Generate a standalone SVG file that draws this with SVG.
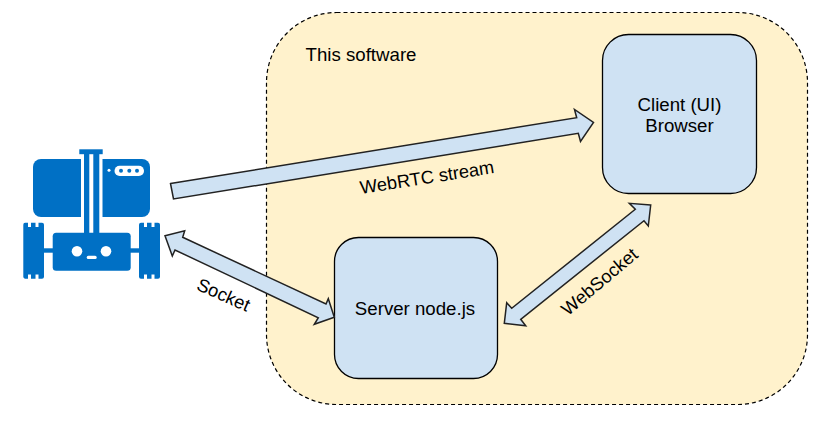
<svg xmlns="http://www.w3.org/2000/svg" width="838" height="425" viewBox="0 0 838 425">
<style>
text{font-family:"Liberation Sans",Arial,sans-serif;font-size:18.67px;fill:#000;text-anchor:middle}
.tag{font-size:18.3px}
.box{fill:#cfe2f3;stroke:#000;stroke-width:1.3}
.link{fill:#cfe2f3;stroke:#222;stroke-width:1.5;stroke-linejoin:miter}
.ink{fill:#0070c5}
.cut{fill:#fff}
</style>
<rect width="838" height="425" fill="#fff"/>
<g id="software">
<rect x="266.5" y="12.5" width="541" height="392" rx="70" fill="#fff2cc" stroke="#000" stroke-width="1.2" stroke-dasharray="4 3"/>
<text x="361" y="61">This software</text>
</g>
<g id="robot">
<path class="ink" d="M81 159H41a8 8 0 0 0-8 8V209a8 8 0 0 0 8 8H81Z"/>
<path class="ink" d="M102.500 159H142a8 8 0 0 1 8 8V209a8 8 0 0 1-8 8H102.500Z"/>
<rect class="cut" x="114.500" y="165.700" width="29.500" height="10.300" rx="5.100"/>
<circle class="ink" cx="121" cy="170.700" r="2"/><circle class="ink" cx="129.300" cy="170.700" r="2"/><circle class="ink" cx="137" cy="170.700" r="2"/>
<circle class="cut" cx="109" cy="170.300" r="1.500"/>
<rect class="ink" x="79.300" y="149.300" width="23.400" height="4.900"/>
<rect class="ink" x="84" y="154" width="5.300" height="80"/>
<rect class="ink" x="93.300" y="154" width="6" height="80"/>
<rect class="ink" x="52.700" y="232.700" width="78" height="38" rx="3.500"/>
<rect class="ink" x="44" y="248.300" width="9" height="4.400"/>
<rect class="ink" x="130" y="248.300" width="9.500" height="4.400"/>
<path class="ink" d="M25 222.700H28V227H31V222.700H35.500V227H38.500V222.700H42A2 2 0 0 1 44 224.700V276.700A2 2 0 0 1 42 278.700H38.500V274.500H35.500V278.700H31V274.500H28V278.700H25A2 2 0 0 1 23.300 276.700V224.700A2 2 0 0 1 25 222.700Z"/>
<path class="ink" d="M141 222.700H144V227H147V222.700H151.500V227H154.500V222.700H158A2 2 0 0 1 160 224.700V276.700A2 2 0 0 1 158 278.700H154.500V274.500H151.500V278.700H147V274.500H144V278.700H141A2 2 0 0 1 139 276.700V224.700A2 2 0 0 1 141 222.700Z"/>
<circle class="cut" cx="77" cy="251.300" r="5.300"/>
<circle class="cut" cx="106" cy="251.300" r="5.300"/>
<rect class="cut" x="86.700" y="255.700" width="10" height="3.300" rx="1.600"/>
</g>
<g id="client">
<rect class="box" x="602.500" y="34.500" width="154" height="159" rx="26"/>
<text x="679.500" y="111">Client (UI)</text>
<text x="679.500" y="132">Browser</text>
</g>
<g id="server">
<rect class="box" x="334.500" y="237.500" width="163" height="141" rx="24"/>
<text x="415" y="315">Server node.js</text>
</g>
<g id="connectors">
<path class="link" d="M170.500 183.500L576.700 117.700L574.500 109.500L593.500 122.500L580.500 141.500L578.300 133.300L173.500 199Z"/>
<path class="link" d="M165 235.700L184.700 230.700L182.700 237.300L326 304L328.300 298.700L334.300 317.300L314.300 324.300L318.300 317.700L175 250L172.300 256Z"/>
<path class="link" d="M650.700 205L629.300 203.300L635.300 209.300L511.700 308.300L506.700 302.700L504.300 323.300L525.700 325.700L520.700 319.300L644 220.700L648.300 226Z"/>
<text class="tag" transform="translate(428 183.500) rotate(-9)">WebRTC stream</text>
<text class="tag" transform="translate(221 300.500) rotate(24)">Socket</text>
<text class="tag" transform="translate(603.500 286.500) rotate(-40)">WebSocket</text>
</g>
</svg>
